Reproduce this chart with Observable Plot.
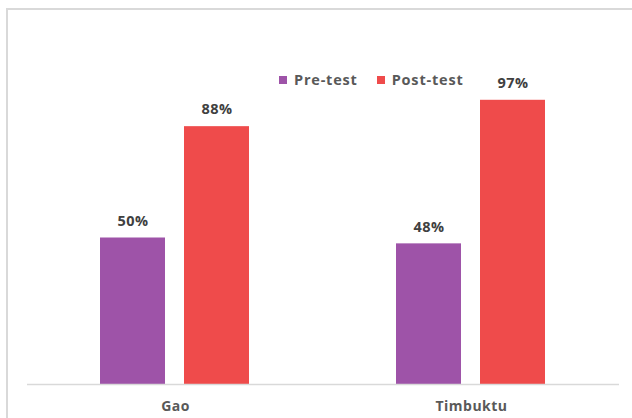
<!DOCTYPE html>
<html>
<head>
<meta charset="utf-8">
<script src="https://cdn.jsdelivr.net/npm/d3@7"></script>
<script src="https://cdn.jsdelivr.net/npm/@observablehq/plot@0.6"></script>
<style>
  body { margin: 0; background: #fff; }
  #wrap { position: relative; width: 632px; height: 418px; overflow: hidden; font-family: "Open Sans", sans-serif; }
  #frame { position: absolute; left: 6px; top: 8px; width: 700px; height: 500px; border: 2px solid #d9d9d9; box-sizing: border-box; }
  #legend { position: absolute; left: 279px; top: 70px; display: flex; gap: 19px; font-weight: 700; font-size: 14.5px; color: #595959; letter-spacing: 0.8px; }
  #legend span.sw { display: inline-block; width: 8px; height: 8px; margin-right: 7px; vertical-align: 1px; }
  #chart { position: absolute; left: 0; top: 0; }
  #chart svg text { letter-spacing: 0.5px; }
</style>
</head>
<body>
<div id="wrap">
  <div id="frame"></div>
  <div id="chart"></div>
  <div id="legend"></div>
</div>
<script>
const regions = ["Gao", "Timbuktu"];
const tests = ["Pre-test", "Post-test"];
const preTest = [50, 48];
const postTest = [88, 97];
const colors = ["#9E53A8", "#EF4B4B"];

const data = [];
regions.forEach((r, i) => {
  data.push({region: r, test: tests[0], value: preTest[i]});
  data.push({region: r, test: tests[1], value: postTest[i]});
});

const chart = Plot.plot({
  width: 632,
  height: 418,
  marginTop: 91,
  marginBottom: 34,
  marginLeft: 27,
  marginRight: 13,
  style: {fontFamily: "Open Sans, sans-serif", background: "transparent"},
  fx: {domain: regions, padding: 0, label: null},
  x: {domain: tests, axis: null, paddingInner: 0.2235, paddingOuter: 0.853},
  y: {domain: [0, 100], axis: null},
  color: {domain: tests, range: colors},
  marks: [
    Plot.barY(data, {fx: "region", x: "test", y: "value", fill: "test"}),
    Plot.ruleY([0], {stroke: "#d9d9d9", strokeWidth: 1.5}),
    Plot.text(data, {fx: "region", x: "test", y: "value", text: d => d.value + "%", dy: -17, fill: "#404040", fontSize: 14.5, fontWeight: 700}),
    Plot.axisFx({anchor: "bottom", tickSize: 0, tickPadding: 17, fontSize: 14, fontWeight: 700, fill: "#595959", label: null})
  ]
});
document.getElementById("chart").appendChild(chart);

const legend = document.getElementById("legend");
tests.forEach((t, i) => {
  const item = document.createElement("div");
  const sw = document.createElement("span");
  sw.className = "sw";
  sw.style.background = colors[i];
  item.appendChild(sw);
  item.appendChild(document.createTextNode(t));
  legend.appendChild(item);
});
</script>
</body>
</html>
